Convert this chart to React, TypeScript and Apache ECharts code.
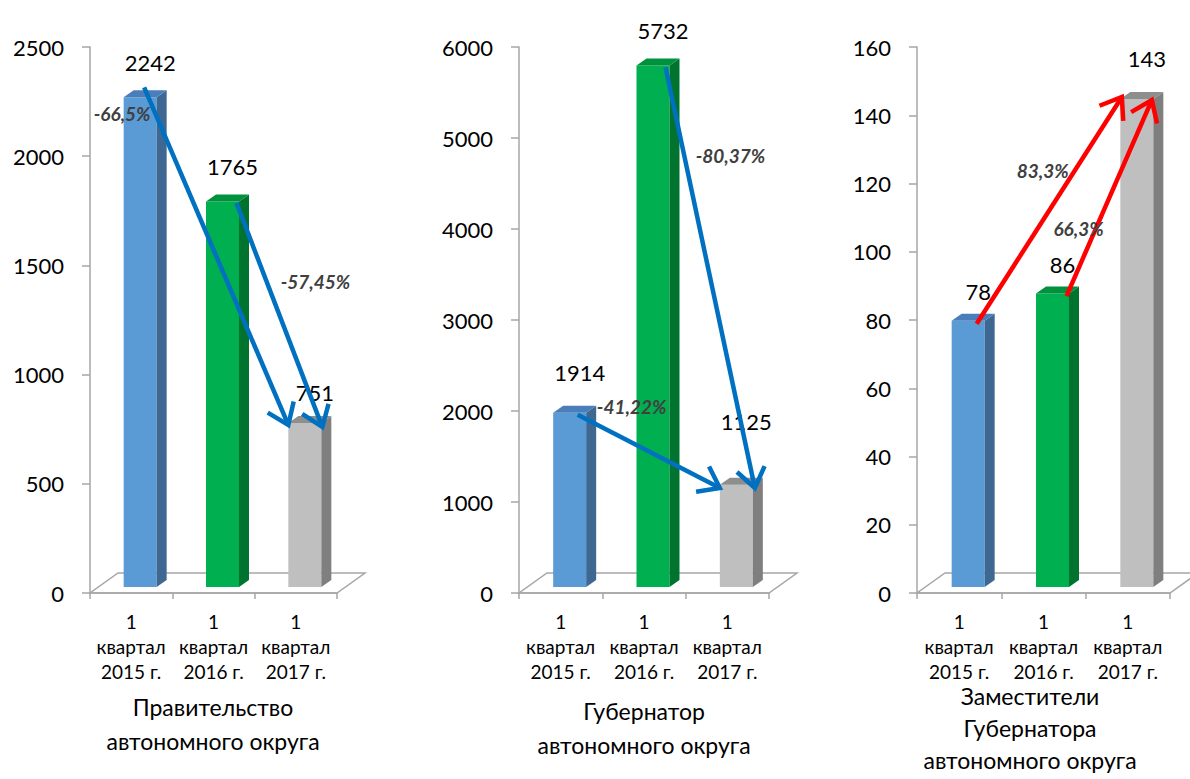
import React, { useEffect, useRef } from "react";
import * as echarts from "echarts";

const categories = ["1\nквартал\n2015 г.", "1\nквартал\n2016 г.", "1\nквартал\n2017 г."];

const govValues = [2242, 1765, 751];
const governorValues = [1914, 5732, 1125];
const deputyValues = [78, 86, 143];

const titles = [
  "Правительство\nавтономного округа",
  "Губернатор\nавтономного округа",
  "Заместители\nГубернатора\nавтономного округа",
];

const yMax = [2500, 6000, 160];
const yInterval = [500, 1000, 20];

// arrows: from bar index -> to bar index, with percentage label
const govArrows = [
  { from: 0, to: 2, label: "-66,5%" },
  { from: 1, to: 2, label: "-57,45%" },
];
const governorArrows = [
  { from: 0, to: 2, label: "-41,22%" },
  { from: 1, to: 2, label: "-80,37%" },
];
const deputyArrows = [
  { from: 0, to: 2, label: "83,3%" },
  { from: 1, to: 2, label: "66,3%" },
];

// ---- layout / style constants ----
const FONT = "Lato, 'Noto Sans', 'Open Sans', sans-serif";
const GRIDS = [
  { left: 90, width: 247 },
  { left: 519, width: 250 },
  { left: 917, width: 253 },
];
const GRID_TOP = 47;
const GRID_HEIGHT = 546;
const FLOOR_DX = 28;
const FLOOR_DY = -20;
const BAR_W = 33;
const BAR_OFF = -7.5;
const BAR_LIFT = -6;
const DEPTH_DX = 10;
const DEPTH_DY = -7;
// per-chart, per-bar vertical nudge of value labels (pixels)
const LABEL_NUDGE = [
  [0, 0, 5],
  [-5, 0, -28],
  [6, 6, -6],
];

const BAR_COLORS = [
  { front: "#5B9BD5", side: "#3E6892", top: "#4A7EBA" },
  { front: "#00B050", side: "#00732F", top: "#00913D" },
  { front: "#BFBFBF", side: "#7F7F7F", top: "#8E8E8E" },
];

// per-arrow pixel offsets: start offset, end offset, label offset (from start)
const ARROW_LAYOUT = [
  [
    { s: [13, -16], e: [-7.5, -4], l: [-22, 26] },
    { s: [23, -4.5], e: [26.5, -2], l: [79, 78] },
  ],
  [
    { s: [17, -4], e: [-7.5, -2.6], l: [54, -8] },
    { s: [21.5, -4], e: [27.5, -2.6], l: [65, 88] },
  ],
  [
    { s: [17.5, -3], e: [-6, -8], l: [66, -153] },
    { s: [23, -3.5], e: [24, -5], l: [12, -68] },
  ],
];
const ARROW_COLORS = ["#0070C0", "#0070C0", "#FF0000"];

const TITLE_POS = [
  { x: 213, y: 690, lh: 34 },
  { x: 644, y: 694, lh: 34 },
  { x: 1030, y: 680, lh: 32 },
];

const allValues = [govValues, governorValues, deputyValues];
const allArrows = [govArrows, governorArrows, deputyArrows];

function makeBarRender(chartIdx: number) {
  return (params: any, api: any) => {
    const idx = api.value(0);
    const val = api.value(1);
    const c = api.coord([idx, val]);
    const b = api.coord([idx, 0]);
    const x0 = c[0] + BAR_OFF;
    const top = c[1] + BAR_LIFT;
    const bottom = b[1] + BAR_LIFT;
    const col = BAR_COLORS[idx];
    const w = BAR_W;
    return {
      type: "group",
      children: [
        {
          type: "rect",
          shape: { x: x0, y: top, width: w, height: bottom - top },
          style: { fill: col.front },
        },
        {
          type: "polygon",
          shape: {
            points: [
              [x0 + w, top],
              [x0 + w + DEPTH_DX, top + DEPTH_DY],
              [x0 + w + DEPTH_DX, bottom + DEPTH_DY],
              [x0 + w, bottom],
            ],
          },
          style: { fill: col.side },
        },
        {
          type: "polygon",
          shape: {
            points: [
              [x0, top],
              [x0 + DEPTH_DX, top + DEPTH_DY],
              [x0 + w + DEPTH_DX, top + DEPTH_DY],
              [x0 + w, top],
            ],
          },
          style: { fill: col.top },
        },
        {
          type: "text",
          x: x0 + w / 2 + DEPTH_DX,
          y: top - 35 + LABEL_NUDGE[chartIdx][idx],
          style: {
            text: String(val),
            fill: "#000000",
            font: `22px ${FONT}`,
            align: "center",
            verticalAlign: "middle",
          },
          z2: 5,
        },
      ],
    };
  };
}

function floorRender(params: any, api: any) {
  const cs = params.coordSys;
  const x = cs.x;
  const y = cs.y + cs.height;
  const w = cs.width;
  return {
    type: "polygon",
    shape: {
      points: [
        [x, y],
        [x + w, y],
        [x + w + FLOOR_DX, y + FLOOR_DY],
        [x + FLOOR_DX, y + FLOOR_DY],
      ],
    },
    style: { fill: "none", stroke: "#A6A6A6", lineWidth: 1.5 },
  };
}

function makeArrowRender(chartIdx: number) {
  const values = allValues[chartIdx];
  const arrows = allArrows[chartIdx];
  const color = ARROW_COLORS[chartIdx];
  return (params: any, api: any) => {
    const ai = params.dataIndex;
    const a = arrows[ai];
    const lay = ARROW_LAYOUT[chartIdx][ai];
    const p1 = api.coord([a.from, values[a.from]]);
    const p2 = api.coord([a.to, values[a.to]]);
    const sx = p1[0] + lay.s[0];
    const sy = p1[1] + lay.s[1];
    const ex = p2[0] + lay.e[0];
    const ey = p2[1] + lay.e[1];
    const ang = Math.atan2(ey - sy, ex - sx);
    const L = 24;
    const half = (36 * Math.PI) / 180;
    const h1 = [ex - L * Math.cos(ang - half), ey - L * Math.sin(ang - half)];
    const h2 = [ex - L * Math.cos(ang + half), ey - L * Math.sin(ang + half)];
    return {
      type: "group",
      children: [
        {
          type: "line",
          shape: { x1: sx, y1: sy, x2: ex - 2 * Math.cos(ang), y2: ey - 2 * Math.sin(ang) },
          style: { stroke: color, lineWidth: 4.5 },
          z2: 10,
        },
        {
          type: "polyline",
          shape: { points: [h1, [ex, ey], h2] },
          style: { stroke: color, lineWidth: 4.5, fill: "none", lineJoin: "miter" },
          z2: 10,
        },
        {
          type: "text",
          x: sx + lay.l[0],
          y: sy + lay.l[1],
          style: {
            text: a.label,
            fill: "#404040",
            font: `italic bold 19px ${FONT}`,
            align: "center",
            verticalAlign: "middle",
          },
          z2: 12,
        },
      ],
    };
  };
}

export default function App() {
  const ref = useRef<HTMLDivElement>(null);
  useEffect(() => {
    if (!ref.current) return;
    const chart = echarts.init(ref.current, null, { renderer: "svg" });
    const grid = GRIDS.map((g) => ({
      left: g.left,
      width: g.width,
      top: GRID_TOP,
      height: GRID_HEIGHT,
    }));
    const xAxis = GRIDS.map((_, i) => ({
      type: "category",
      gridIndex: i,
      data: categories,
      boundaryGap: true,
      axisLine: { show: true, lineStyle: { color: "#A6A6A6", width: 1.5 } },
      axisTick: { show: true, length: 6, lineStyle: { color: "#A6A6A6", width: 1.5 } },
      axisLabel: {
        color: "#000000",
        fontSize: 19,
        lineHeight: 25,
        fontFamily: FONT,
        margin: 16,
        interval: 0,
      },
      splitLine: { show: false },
    }));
    const yAxis = GRIDS.map((_, i) => ({
      type: "value",
      gridIndex: i,
      min: 0,
      max: yMax[i],
      interval: yInterval[i],
      axisLine: { show: true, lineStyle: { color: "#A6A6A6", width: 1.5 } },
      axisTick: { show: true, length: 8, lineStyle: { color: "#A6A6A6", width: 1.5 } },
      axisLabel: {
        color: "#000000",
        fontSize: 22,
        fontFamily: FONT,
        margin: 26,
        formatter: (v: number) => String(v),
      },
      splitLine: { show: false },
    }));
    const series: any[] = [];
    GRIDS.forEach((_, i) => {
      series.push({
        type: "custom",
        xAxisIndex: i,
        yAxisIndex: i,
        renderItem: floorRender,
        data: [[0, 0]],
        z: 1,
        silent: true,
      });
      series.push({
        type: "custom",
        xAxisIndex: i,
        yAxisIndex: i,
        renderItem: makeBarRender(i),
        data: allValues[i].map((v, k) => [k, v]),
        z: 2,
        clip: false,
      });
      series.push({
        type: "custom",
        xAxisIndex: i,
        yAxisIndex: i,
        renderItem: makeArrowRender(i),
        data: allArrows[i].map((a) => [a.from, allValues[i][a.from]]),
        z: 3,
        clip: false,
      });
    });
    const graphic = titles.map((t, i) => ({
      type: "text",
      x: TITLE_POS[i].x,
      y: TITLE_POS[i].y,
      style: {
        text: t,
        fill: "#000000",
        font: `23px ${FONT}`,
        align: "center",
        verticalAlign: "top",
        lineHeight: TITLE_POS[i].lh,
      },
    }));
    chart.setOption({
      animation: false,
      backgroundColor: "#ffffff",
      grid,
      xAxis,
      yAxis,
      series,
      graphic,
    });
    return () => chart.dispose();
  }, []);
  return (
    <div
      ref={ref}
      style={{ position: "fixed", left: 0, top: 0, width: 1190, height: 779 }}
    />
  );
}
